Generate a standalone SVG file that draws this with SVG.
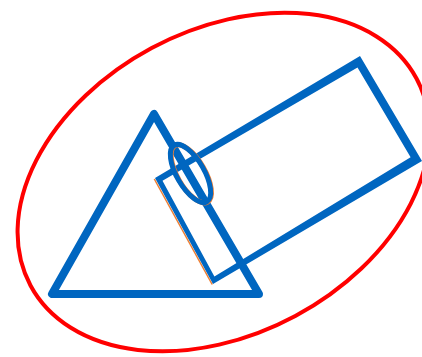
<svg xmlns="http://www.w3.org/2000/svg" width="422" height="357" viewBox="0 0 422 357">
<style>
.blue{fill:none;stroke:#0066C0;stroke-linejoin:round}
.bluefill{fill:#0066C0;fill-rule:evenodd}
.shadow{fill:none;stroke:#ED7D31;stroke-width:1.5}
</style>
<rect width="422" height="357" fill="#FFFFFF"/>
<g id="big-ellipse">
<ellipse cx="223.5" cy="182" rx="219" ry="152" transform="rotate(-28.2 223.5 182)" fill="none" stroke="#FF0000" stroke-width="4"/>
</g>
<g id="triangle">
<polygon class="blue" stroke-width="8" points="154,114 52,294 259,294"/>
</g>
<g id="rectangle">
<line class="shadow" x1="154.3" y1="179" x2="212.2" y2="284.5"/>
<path class="bluefill" d="M155,178 L360,56 L422,161 L213,284 Z M162.5,180.8 L357.5,67.4 L410.6,157.3 L214.4,276.4 Z"/>
</g>
<g id="small-ellipse">
<ellipse cx="191.3" cy="173.8" rx="32.6" ry="13.7" transform="rotate(60 191.3 173.8)" fill="none" stroke="#ED7D31" stroke-width="5"/>
<ellipse cx="190.5" cy="173.5" rx="32.6" ry="13.7" transform="rotate(60 190.5 173.5)" fill="none" stroke="#0066C0" stroke-width="5"/>
</g>
</svg>
